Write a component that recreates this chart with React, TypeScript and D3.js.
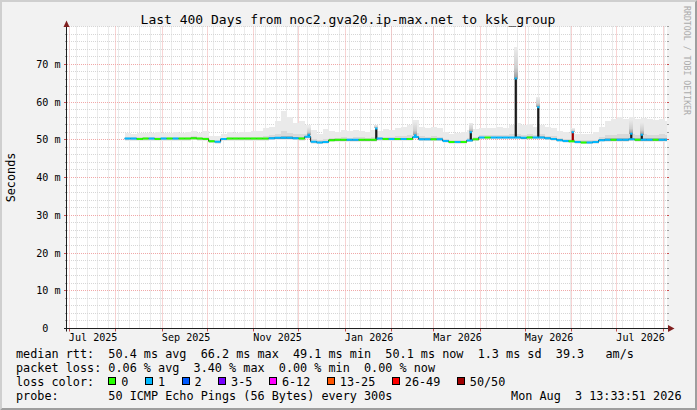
import * as d3 from "d3";

const W = 697;
const H = 410;
const PLOT = { left: 67, right: 667, top: 26.5, bottom: 328.5 };
const MONO = "'DejaVu Sans Mono', monospace";

const END = new Date(Date.UTC(2026, 7, 3, 13, 33, 51));
const START = d3.utcDay.offset(END, -400);
const FIRST_BUCKET = new Date(Date.UTC(2025, 7, 7));
const BUCKET_DAYS = 4;

// median rtt per 4-day bucket (ms)
const medianMs = [
  50.3, 50.3, 50.2, 50.3, 50.3, 50.2, 50.3, 50.3, 50.3, 50.3,
  50.3, 50.4, 50.3, 50.2, 49.6, 49.5, 50.2, 50.3, 50.3, 50.3,
  50.3, 50.3, 50.3, 50.3, 50.4, 50.5, 50.5, 50.5, 50.4, 50.3,
  50.8, 49.5, 49.3, 49.4, 49.9, 50.0, 50.0, 50.0, 50.0, 50.0,
  50.0, 50.0, 50.3, 50.2, 50.2, 50.2, 50.2, 50.2, 50.7, 50.1,
  50.1, 50.1, 50.1, 49.7, 49.4, 49.4, 49.4, 49.8, 50.1, 50.6,
  50.6, 50.6, 50.6, 50.6, 50.6, 50.6, 50.5, 50.6, 50.6, 50.6,
  50.4, 50.2, 49.9, 49.7, 49.6, 49.4, 49.3, 49.3, 49.4, 49.9,
  50.0, 50.0, 50.0, 50.0, 50.1, 50.0, 50.0, 50.0, 50.0, 50.0,
  50.0,
];

// highest ping in each bucket (top of the smoke), ms
const smokeTopMs = [
  51.8, 51.6, 51.9, 51.7, 51.8, 52.0, 51.7, 51.9, 52.1, 51.8,
  52.0, 52.3, 51.9, 52.2, 50.9, 51.0, 51.6, 52.0, 51.8, 52.1,
  52.0, 52.4, 52.3, 53.0, 53.5, 55.0, 57.5, 56.0, 54.5, 55.0,
  54.0, 52.5, 51.5, 52.8, 52.2, 52.0, 52.5, 52.3, 52.6, 52.4,
  52.1, 52.6, 52.2, 52.8, 52.5, 53.0, 53.5, 54.0, 55.2, 53.5,
  53.0, 53.4, 53.0, 52.0, 51.5, 51.8, 52.0, 52.6, 52.8, 53.0,
  53.2, 53.0, 53.5, 53.0, 53.8, 54.5, 54.0, 54.2, 53.5, 54.0,
  53.3, 53.0, 52.4, 52.0, 51.8, 51.5, 51.4, 51.6, 52.0, 53.5,
  55.0, 55.5, 56.0, 55.6, 56.0, 55.5, 55.8, 55.4, 55.2, 55.6,
  55.0,
];

// loss class per bucket (index into lossColors)
const lossIdx = [
  1, 1, 0, 0, 1, 0, 1, 0, 1, 0,
  0, 0, 0, 0, 0, 1, 1, 0, 0, 0,
  0, 0, 0, 0, 1, 1, 1, 1, 1, 0,
  1, 1, 1, 1, 0, 0, 0, 1, 1, 0,
  0, 0, 1, 0, 1, 0, 1, 0, 1, 1,
  1, 0, 1, 1, 0, 1, 0, 1, 0, 1,
  0, 1, 1, 1, 1, 1, 1, 0, 1, 1,
  1, 1, 1, 1, 0, 1, 0, 1, 1, 1,
  1, 0, 1, 1, 1, 0, 1, 1, 0, 1,
  1,
];

// short spikes
const spikeDates = ["2025-12-07", "2026-01-21", "2026-02-16", "2026-03-25", "2026-04-24", "2026-05-09", "2026-06-01", "2026-07-10", "2026-07-17"];
const spikeMs = [51.3, 53.0, 51.2, 52.0, 66.2, 58.6, 52.0, 51.6, 51.3];
const spikeTopMs = [53.5, 54.0, 55.0, 54.5, 74.5, 61.3, 53.0, 55.5, 54.8];
const spikeLoss = [1, 1, 1, 1, 1, 1, 1, 1, 1];
const spikeAllLost = [false, false, false, false, false, false, true, false, false];

const lossLabels = ["0", "1", "2", "3-5", "6-12", "13-25", "26-49", "50/50"];
const lossColors = ["#26ff00", "#00b8ff", "#0059ff", "#7700ff", "#ff00ff", "#ff5500", "#ff0000", "#a00000"];

const yMajorTicks = [0, 0.01, 0.02, 0.03, 0.04, 0.05, 0.06, 0.07];

const title = "Last 400 Days from noc2.gva20.ip-max.net to ksk_group";
const rttLine = "median rtt:  50.4 ms avg  66.2 ms max  49.1 ms min  50.1 ms now  1.3 ms sd  39.3   am/s";
const lossLine = "packet loss: 0.06 % avg  3.40 % max  0.00 % min  0.00 % now";
const colorLine = "loss color:";
const probeLine = "probe:       50 ICMP Echo Pings (56 Bytes) every 300s";
const stampLine = "Mon Aug  3 13:33:51 2026";

const pre = { whiteSpace: "pre" as const };

export default function App() {
  const x = d3.scaleUtc().domain([START, END]).range([PLOT.left, PLOT.right]);
  const y = d3.scaleLinear().domain([0, 0.08]).range([PLOT.bottom, PLOT.top]);
  const ym = (v: number) => y(v / 1000);
  const crisp = (v: number) => Math.round(v - 0.5) + 0.5;

  const buckets = medianMs.map((m, i) => {
    const t0 = d3.utcDay.offset(FIRST_BUCKET, i * BUCKET_DAYS);
    const t1 = d3.min([d3.utcDay.offset(t0, BUCKET_DAYS), END])!;
    return { t0, t1, m, top: smokeTopMs[i], loss: lossIdx[i] };
  });

  const parse = d3.utcParse("%Y-%m-%d");
  const spikes = spikeDates.map((d, i) => {
    const t0 = parse(d)!;
    const t1 = d3.utcHour.offset(t0, 36);
    const bi = Math.floor(d3.utcDay.count(FIRST_BUCKET, t0) / BUCKET_DAYS);
    return { t0, t1, base: medianMs[bi], v: spikeMs[i], top: spikeTopMs[i], loss: spikeLoss[i], lost: spikeAllLost[i] };
  });

  const stepPts = [...buckets.map((b) => ({ t: b.t0, m: b.m })), { t: END, m: buckets[buckets.length - 1].m }];
  const medianPath = d3
    .line<{ t: Date; m: number }>()
    .curve(d3.curveStepAfter)
    .x((d) => x(d.t))
    .y((d) => ym(d.m))(stepPts)!;

  const minorY = d3.range(0.002, 0.0801, 0.002).filter((v) => Math.abs(v * 100 - Math.round(v * 100)) > 1e-6 || v > 0.075);
  const weeks = d3.utcSunday.range(START, END);
  const months = d3.utcMonth.range(START, END);
  const labelMonths = d3.utcMonth.every(2)!.range(START, END);
  const fmtMonth = d3.utcFormat("%b %Y");
  const yLabel = (v: number) => (v === 0 ? "0  " : `${Math.round(v * 1000)} m`);

  // legend box layout
  let bx = 108.3;
  const legendItems = lossLabels.map((lab, i) => {
    const item = { lab, color: lossColors[i], bx, tx: bx + 13 };
    bx = item.tx + lab.length * 7.1 + 16.5;
    return item;
  });

  return (
    <svg width={W} height={H} style={{ position: "absolute", left: 0, top: 0 }} fontFamily={MONO}>
      <defs>
        <clipPath id="plot">
          <rect x={PLOT.left} y={PLOT.top} width={PLOT.right - PLOT.left} height={PLOT.bottom - PLOT.top} />
        </clipPath>
        <linearGradient id="fade" x1="0" y1="1" x2="0" y2="0">
          <stop offset="0" stopColor="#9a9a9a" />
          <stop offset="0.35" stopColor="#cfcfcf" />
          <stop offset="1" stopColor="#ececec" />
        </linearGradient>
      </defs>
      <rect width={W} height={H} fill="#f2f2f2" />
      <polygon points={`0,${H} 2,${H - 2} 2,2 ${W - 2},2 ${W},0 0,0`} fill="#cfcfcf" />
      <polygon points={`2,${H - 2} ${W - 2},${H - 2} ${W - 2},2 ${W},0 ${W},${H} 0,${H}`} fill="#9e9e9e" />
      <rect x={PLOT.left} y={PLOT.top} width={PLOT.right - PLOT.left} height={PLOT.bottom - PLOT.top} fill="#ffffff" />

      {/* grid */}
      <g strokeDasharray="1,1" strokeWidth={1}>
        {minorY.map((v) => (
          <line key={"my" + v} x1={PLOT.left} x2={PLOT.right} y1={crisp(y(v))} y2={crisp(y(v))} stroke="#d6d6d6" />
        ))}
        {weeks.map((d) => (
          <line key={"wk" + +d} x1={crisp(x(d))} x2={crisp(x(d))} y1={PLOT.top} y2={PLOT.bottom} stroke="#d6d6d6" />
        ))}
        {yMajorTicks.filter((v) => v > 0).map((v) => (
          <line key={"My" + v} x1={PLOT.left} x2={PLOT.right} y1={crisp(y(v))} y2={crisp(y(v))} stroke="#f0a8a8" />
        ))}
        {months.map((d) => (
          <line key={"mo" + +d} x1={crisp(x(d))} x2={crisp(x(d))} y1={PLOT.top} y2={PLOT.bottom} stroke="#f0a8a8" />
        ))}
      </g>

      {/* smoke */}
      <g clipPath="url(#plot)" shapeRendering="crispEdges">
        {buckets.map((b, i) => {
          const x0 = x(b.t0);
          const w = x(b.t1) - x0;
          const span = b.top - b.m;
          const mid = b.m + Math.max(0.35, span * 0.25);
          const near = b.m + Math.max(0.2, span * 0.08);
          return (
            <g key={"sm" + i}>
              <rect x={x0} width={w} y={ym(b.top)} height={ym(b.m - 0.5) - ym(b.top)} fill="#eaeaea" />
              <rect x={x0} width={w} y={ym(mid)} height={ym(b.m - 0.35) - ym(mid)} fill="#d9d9d9" />
              <rect x={x0} width={w} y={ym(near)} height={ym(b.m - 0.2) - ym(near)} fill="#b5b5b5" />
            </g>
          );
        })}
        {spikes.map((s, i) => {
          const x0 = x(s.t0);
          const w = x(s.t1) - x0;
          return (
            <g key={"ss" + i}>
              <rect x={x0 - 1} width={w + 2} y={ym(s.top)} height={ym(s.v) - ym(s.top)} fill="url(#fade)" />
            </g>
          );
        })}
      </g>

      {/* median */}
      <g clipPath="url(#plot)">
        <path d={medianPath} fill="none" stroke="#1a1a1a" strokeWidth={1} />
        {spikes.map((s, i) => (
          <rect
            key={"sc" + i}
            x={x(s.t0)}
            width={x(s.t1) - x(s.t0)}
            y={ym(s.v)}
            height={ym(s.base) - ym(s.v)}
            fill={s.lost ? lossColors[7] : "#1a1a1a"}
          />
        ))}
        {buckets.map((b, i) => (
          <line key={"ln" + i} x1={x(b.t0)} x2={x(b.t1)} y1={ym(b.m)} y2={ym(b.m)} stroke={lossColors[b.loss]} strokeWidth={2} />
        ))}
        {spikes.map((s, i) => (
          <line key={"st" + i} x1={x(s.t0)} x2={x(s.t1)} y1={ym(s.v)} y2={ym(s.v)} stroke={lossColors[s.loss]} strokeWidth={2} />
        ))}
      </g>

      {/* ticks */}
      <g strokeWidth={1}>
        {minorY.map((v) => (
          <g key={"tm" + v}>
            <line x1={PLOT.left - 2} x2={PLOT.left} y1={crisp(y(v))} y2={crisp(y(v))} stroke="#a0a0a0" />
            <line x1={PLOT.right} x2={PLOT.right + 2} y1={crisp(y(v))} y2={crisp(y(v))} stroke="#a0a0a0" />
          </g>
        ))}
        {yMajorTicks.map((v) => (
          <g key={"tM" + v}>
            <line x1={PLOT.left - 3} x2={PLOT.left} y1={crisp(y(v))} y2={crisp(y(v))} stroke="#c85050" />
            <line x1={PLOT.right} x2={PLOT.right + 2} y1={crisp(y(v))} y2={crisp(y(v))} stroke="#c85050" />
          </g>
        ))}
        {months.map((d) => (
          <line key={"tx" + +d} x1={crisp(x(d))} x2={crisp(x(d))} y1={PLOT.bottom} y2={PLOT.bottom + 3} stroke="#c85050" />
        ))}
      </g>

      {/* axes */}
      <line x1={66.5} x2={66.5} y1={PLOT.bottom + 3} y2={PLOT.top - 1} stroke="#1f1f1f" />
      <line x1={64} x2={670} y1={PLOT.bottom} y2={PLOT.bottom} stroke="#1f1f1f" />
      <polygon points="63.5,27 69.5,27 66.5,20.5" fill="#801f1f" />
      <polygon points="668,325 668,332 674.5,328.5" fill="#801f1f" />

      {/* axis labels */}
      <g fontSize={10.1} fill="#000">
        {yMajorTicks.map((v) => (
          <text key={"yl" + v} x={60.5} y={y(v) + 3.7} textAnchor="end" style={pre} xmlSpace="preserve">
            {yLabel(v)}
          </text>
        ))}
        {labelMonths.map((d) => (
          <text key={"xl" + +d} x={x(d3.utcDay.offset(d, 16))} y={341} textAnchor="middle">
            {fmtMonth(d)}
          </text>
        ))}
      </g>
      <text transform={`translate(15,${(PLOT.top + PLOT.bottom) / 2}) rotate(-90)`} textAnchor="middle" fontSize={11.8}>
        Seconds
      </text>

      <text x={348} y={24} textAnchor="middle" fontSize={13}>
        {title}
      </text>
      <text
        transform="translate(684,6) rotate(90)"
        fontSize={8.2}
        fill="#ababab"
        textLength={109}
        lengthAdjust="spacingAndGlyphs"
      >
        RRDTOOL / TOBI OETIKER
      </text>

      {/* legend */}
      <g fontSize={11.8} fill="#000">
        <text x={16} y={357.5} style={pre} xmlSpace="preserve">{rttLine}</text>
        <text x={16} y={371.6} style={pre} xmlSpace="preserve">{lossLine}</text>
        <text x={16} y={385.7} style={pre} xmlSpace="preserve">{colorLine}</text>
        {legendItems.map((it) => (
          <g key={it.lab}>
            <rect x={Math.round(it.bx) + 0.5} y={377.5} width={7} height={7} fill={it.color} stroke="#000" />
            <text x={it.tx} y={385.7}>{it.lab}</text>
          </g>
        ))}
        <text x={16} y={399.7} style={pre} xmlSpace="preserve">{probeLine}</text>
        <text x={681.5} y={399.7} textAnchor="end" style={pre} xmlSpace="preserve">{stampLine}</text>
      </g>
    </svg>
  );
}
